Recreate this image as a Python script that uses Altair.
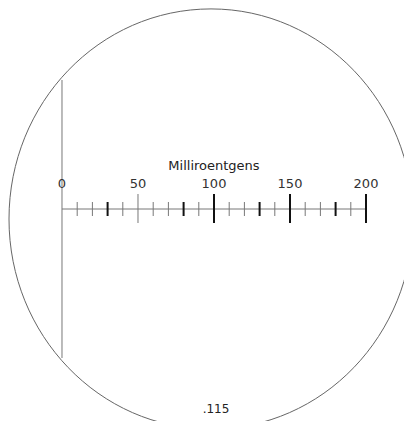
import altair as alt
import pandas as pd

# Scale values (milliroentgens)
tick_values = list(range(10, 201, 10))
long_thin = [50]
long_bold = [100, 150, 200]
short_bold = [30, 80, 130, 180]
label_values = [0, 50, 100, 150, 200]
title_text = "Milliroentgens"
serial_text = ".115"

short_thin = [v for v in tick_values if v not in long_thin + long_bold + short_bold]

W, H = 396, 413
xscale = alt.Scale(domain=[-35.526, 225.0], range=[0, W], nice=False, zero=False)
X = lambda: alt.X("v:Q", scale=xscale, axis=None)

def df(vals):
    return pd.DataFrame({"v": vals})

font = "DejaVu Sans"

circle = alt.Chart(df([0])).mark_point(
    shape="M -1 0 A 1 1.04 0 1 0 1 0 A 1 1.04 0 1 0 -1 0 Z",
    filled=False, stroke="#666", strokeWidth=1, size=404 * 404, opacity=1
).encode(x=alt.value(203), y=alt.value(211))

vline = alt.Chart(df([0])).mark_rule(color="#777", strokeWidth=1).encode(
    x=X(), y=alt.value(72), y2=alt.value(350))

axis_line = alt.Chart(pd.DataFrame({"v": [0], "v2": [200]})).mark_rule(
    color="#777", strokeWidth=1).encode(x=X(), x2="v2:Q", y=alt.value(201))

def ticks(vals, top, bottom, color, width):
    return alt.Chart(df(vals)).mark_rule(color=color, strokeWidth=width).encode(
        x=X(), y=alt.value(top), y2=alt.value(bottom))

t1 = ticks(short_thin, 194, 208, "#777", 1)
t2 = ticks(short_bold, 194, 208, "#111", 2)
t3 = ticks(long_thin, 186, 215, "#777", 1)
t4 = ticks(long_bold, 186, 215, "#111", 2)

labels = alt.Chart(df(label_values)).mark_text(
    font=font, fontSize=13, color="#333", baseline="middle", align="center"
).encode(x=X(), y=alt.value(176), text="v:Q")

title = alt.Chart(pd.DataFrame({"v": [100], "t": [title_text]})).mark_text(
    font=font, fontSize=13, color="#222", baseline="middle", align="center"
).encode(x=X(), y=alt.value(157.5), text="t:N")

serial = alt.Chart(pd.DataFrame({"v": [100], "t": [serial_text]})).mark_text(
    font=font, fontSize=12, color="#222", baseline="middle", align="center", dx=2
).encode(x=X(), y=alt.value(401), text="t:N")

chart = alt.layer(circle, vline, axis_line, t1, t2, t3, t4, labels, title, serial).properties(
    width=W, height=H, autosize=alt.AutoSizeParams(type="none"), padding=0,
    background="white"
).configure_view(strokeWidth=0, stroke=None)

chart.save("out.html", embed_options={"renderer": "svg", "actions": False})
